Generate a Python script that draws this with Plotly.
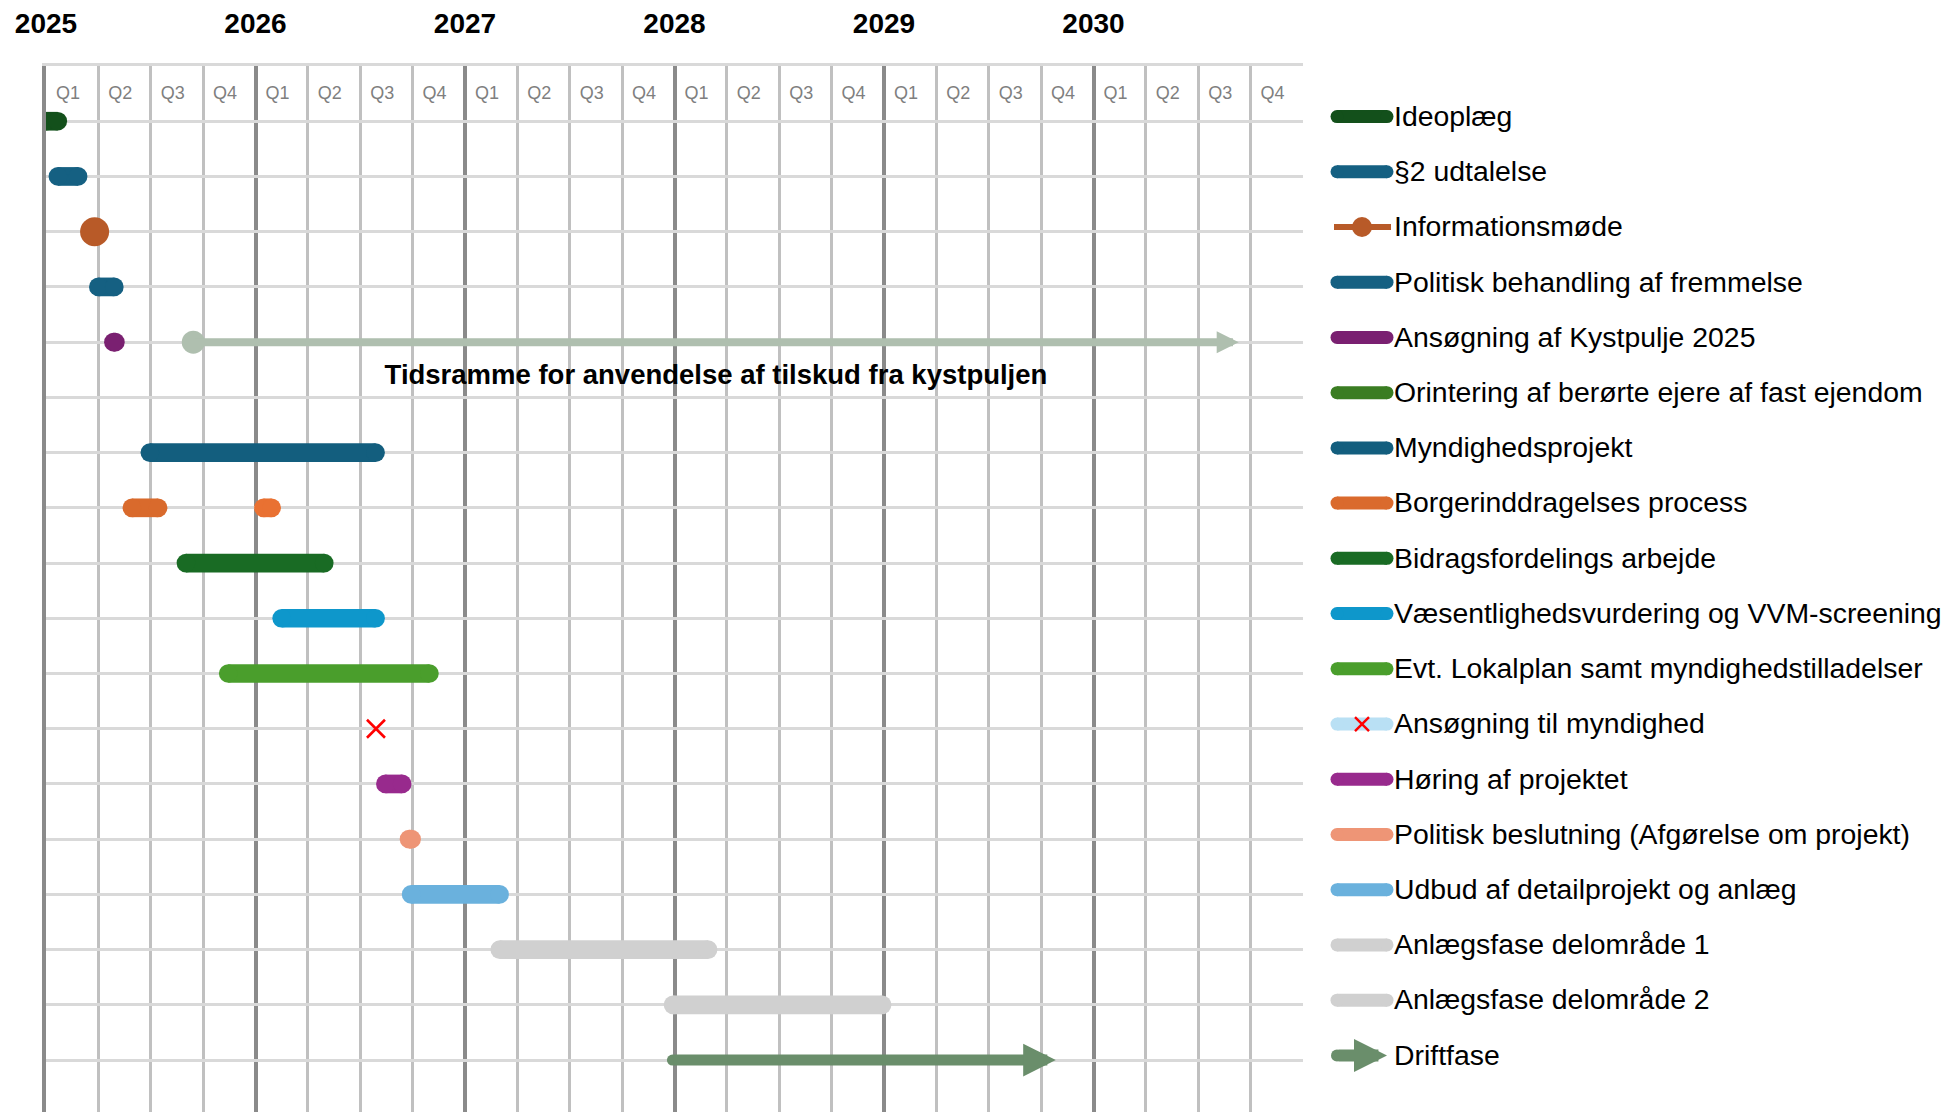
import plotly.graph_objects as go

# ---------------- data ----------------
years = [2025, 2026, 2027, 2028, 2029, 2030]
x_end = 2031
quarter_labels = ["Q1", "Q2", "Q3", "Q4"]

tasks = [
    "Ideoplæg",
    "§2 udtalelse",
    "Informationsmøde",
    "Politisk behandling af fremmelse",
    "Ansøgning af Kystpulje 2025",
    "Orintering af berørte ejere af fast ejendom",
    "Myndighedsprojekt",
    "Borgerinddragelses process",
    "Bidragsfordelings arbejde",
    "Væsentlighedsvurdering og VVM-screening",
    "Evt. Lokalplan samt myndighedstilladelser",
    "Ansøgning til myndighed",
    "Høring af projektet",
    "Politisk beslutning (Afgørelse om projekt)",
    "Udbud af detailprojekt og anlæg",
    "Anlægsfase delområde 1",
    "Anlægsfase delområde 2",
    "Driftfase",
]

# bar segments (row index into tasks, start, end in decimal years)
seg_row = [0, 1, 3, 4, 6, 7, 7, 8, 9, 10, 12, 13, 14, 15, 16]
seg_start = [2025.00, 2025.057, 2025.250, 2025.322, 2025.496, 2025.410, 2026.038,
             2025.668, 2026.125, 2025.870, 2026.620, 2026.733, 2026.743, 2027.166, 2027.993]
seg_end = [2025.056, 2025.153, 2025.326, 2025.331, 2026.573, 2025.535, 2026.077,
           2026.328, 2026.573, 2026.830, 2026.700, 2026.745, 2027.165, 2028.160, 2028.991]

# milestones
info_meeting_x = 2025.232          # Informationsmøde (row 2)
authority_app_x = 2026.575         # Ansøgning til myndighed (row 11)

# arrows
frame_row, frame_start, frame_end = 4, 2025.703, 2030.693
frame_text = "Tidsramme for anvendelse af tilskud fra kystpuljen"
drift_row, drift_start, drift_end = 17, 2027.990, 2029.820

# ---------------- styles ----------------
FONT = "Liberation Sans, Arial, sans-serif"
seg_colors = ["#13501B", "#156082", "#156082", "#7A2071", "#135E7E", "#D96A2C", "#E97132",
              "#196B24", "#0E97CB", "#4A9E2C", "#982A8D", "#EE9576", "#6AB1DD", "#D0D0D0", "#D0D0D0"]
legend_colors = {
    "Ideoplæg": "#13501B",
    "§2 udtalelse": "#156082",
    "Informationsmøde": "#B85A28",
    "Politisk behandling af fremmelse": "#156082",
    "Ansøgning af Kystpulje 2025": "#7A2071",
    "Orintering af berørte ejere af fast ejendom": "#3A7D22",
    "Myndighedsprojekt": "#135E7E",
    "Borgerinddragelses process": "#DA6A2D",
    "Bidragsfordelings arbejde": "#196B24",
    "Væsentlighedsvurdering og VVM-screening": "#0E97CB",
    "Evt. Lokalplan samt myndighedstilladelser": "#4A9E2C",
    "Ansøgning til myndighed": "#B9E0F4",
    "Høring af projektet": "#982A8D",
    "Politisk beslutning (Afgørelse om projekt)": "#EE9576",
    "Udbud af detailprojekt og anlæg": "#6AB1DD",
    "Anlægsfase delområde 1": "#D0D0D0",
    "Anlægsfase delområde 2": "#D0D0D0",
    "Driftfase": "#6A8E6B",
}
BAR_W = 18.7
frame_color = "#AFBFAF"
drift_color = "#6A8E6B"

W, H = 1942, 1112
ML, MT = 46, 66
plot_right = 1303
y_range = [17.94, -1]

fig = go.Figure()

# bars with rounded ends
for r, s, e, c in zip(seg_row, seg_start, seg_end, seg_colors):
    fig.add_trace(go.Scatter(
        x=[s, e], y=[r, r], mode="lines+markers",
        line=dict(color=c, width=BAR_W),
        marker=dict(color=c, size=BAR_W, line=dict(width=0)),
        showlegend=False, hoverinfo="skip"))

# Informationsmøde
fig.add_trace(go.Scatter(
    x=[info_meeting_x], y=[2], mode="markers",
    marker=dict(color="#B85A28", size=29, line=dict(width=0)),
    showlegend=False, hoverinfo="skip"))

# Ansøgning til myndighed
fig.add_trace(go.Scatter(
    x=[authority_app_x], y=[11], mode="markers",
    marker=dict(symbol="x-thin", size=18, line=dict(color="#FF0000", width=2.6)),
    showlegend=False, hoverinfo="skip"))

# arrow start markers
fig.add_trace(go.Scatter(
    x=[frame_start], y=[frame_row], mode="markers",
    marker=dict(color=frame_color, size=23, line=dict(width=0)),
    showlegend=False, hoverinfo="skip"))
fig.add_trace(go.Scatter(
    x=[drift_start], y=[drift_row], mode="markers",
    marker=dict(color=drift_color, size=11, line=dict(width=0)),
    showlegend=False, hoverinfo="skip"))

annotations = []
annotations.append(dict(
    x=frame_end, y=frame_row, ax=frame_start, ay=frame_row,
    xref="x", yref="y", axref="x", ayref="y", text="", showarrow=True,
    arrowhead=2, arrowwidth=8, arrowsize=0.55, arrowcolor=frame_color))
annotations.append(dict(
    x=drift_end, y=drift_row, ax=drift_start, ay=drift_row,
    xref="x", yref="y", axref="x", ayref="y", text="", showarrow=True,
    arrowhead=2, arrowwidth=11, arrowsize=0.593, arrowcolor=drift_color))

# frame text
fig.add_trace(go.Scatter(
    x=[(frame_start + frame_end) / 2], y=[frame_row + 0.63], mode="text",
    text=[f"<b>{frame_text}</b>"], textposition="middle center",
    textfont=dict(family=FONT, size=27.5, color="#000000"),
    showlegend=False, hoverinfo="skip"))

# quarter labels
q_x, q_t = [], []
for yr in years:
    for qi, ql in enumerate(quarter_labels):
        q_x.append(yr + qi * 0.25 + 0.105)
        q_t.append(ql)
fig.add_trace(go.Scatter(
    x=q_x, y=[-0.48] * len(q_x), mode="text", text=q_t,
    textposition="middle center",
    textfont=dict(family=FONT, size=18, color="#7F7F7F"),
    showlegend=False, hoverinfo="skip"))

# ---------------- custom legend (second subplot, pixel-like x units) ----------------
LEG_X0 = 1320
leg_dy = -0.085
for i, name in enumerate(tasks):
    c = legend_colors[name]
    yy = i + leg_dy
    if name == "Informationsmøde":
        fig.add_trace(go.Scatter(x=[14, 71], y=[yy, yy], mode="lines",
                                 line=dict(color=c, width=6),
                                 xaxis="x2", yaxis="y2", showlegend=False, hoverinfo="skip"))
        fig.add_trace(go.Scatter(x=[42], y=[yy], mode="markers",
                                 marker=dict(color=c, size=20, line=dict(width=0)),
                                 xaxis="x2", yaxis="y2", showlegend=False, hoverinfo="skip"))
    elif name == "Driftfase":
        fig.add_trace(go.Scatter(x=[17], y=[yy], mode="markers",
                                 marker=dict(color=c, size=12, line=dict(width=0)),
                                 xaxis="x2", yaxis="y2", showlegend=False, hoverinfo="skip"))
        annotations.append(dict(
            x=67, y=yy, ax=17, ay=yy, xref="x2", yref="y2", axref="x2", ayref="y2",
            text="", showarrow=True, arrowhead=2, arrowwidth=12, arrowsize=0.55,
            arrowcolor=c))
    else:
        fig.add_trace(go.Scatter(x=[17, 67], y=[yy, yy], mode="lines+markers",
                                 line=dict(color=c, width=13),
                                 marker=dict(color=c, size=13, line=dict(width=0)),
                                 xaxis="x2", yaxis="y2", showlegend=False, hoverinfo="skip"))
        if name == "Ansøgning til myndighed":
            fig.add_trace(go.Scatter(x=[42], y=[yy], mode="markers",
                                     marker=dict(symbol="x-thin", size=14,
                                                 line=dict(color="#FF0000", width=2.4)),
                                     xaxis="x2", yaxis="y2", showlegend=False, hoverinfo="skip"))
fig.add_trace(go.Scatter(
    x=[74] * len(tasks), y=[i + leg_dy + 0.04 for i in range(len(tasks))], mode="text",
    text=tasks, textposition="middle right",
    textfont=dict(family=FONT, size=28.4, color="#000000"),
    xaxis="x2", yaxis="y2", showlegend=False, hoverinfo="skip", cliponaxis=False))

quarter_vals = [yr + q * 0.25 for yr in years for q in range(1, 4)]

fig.update_layout(
    width=W, height=H, autosize=False,
    margin=dict(l=ML, r=0, t=MT, b=0, pad=0),
    paper_bgcolor="white", plot_bgcolor="white",
    showlegend=False,
    annotations=annotations,
    xaxis=dict(
        domain=[0, (plot_right - ML) / (W - ML)],
        range=[years[0], x_end], side="top", anchor="y",
        tickmode="array", tickvals=years, ticktext=[f"<b>{y}</b>" for y in years],
        tickfont=dict(family=FONT, size=28, color="#000000"),
        ticks="outside", ticklen=19, tickcolor="rgba(0,0,0,0)",
        showgrid=True, gridcolor="#8A8A8A", gridwidth=4.4,
        minor=dict(tickmode="array", tickvals=quarter_vals, showgrid=True,
                   gridcolor="#C0C0C0", gridwidth=2.6, ticks=""),
        showline=True, linecolor="#D9D9D9", linewidth=2.5,
        zeroline=False, fixedrange=True,
    ),
    yaxis=dict(
        domain=[0, 1], range=y_range, anchor="x",
        tickmode="array", tickvals=list(range(-1, 18)), showticklabels=False,
        showgrid=True, gridcolor="#D9D9D9", gridwidth=2.5,
        showline=True, linecolor="#8A8A8A", linewidth=4.4,
        zeroline=False, ticks="", fixedrange=True,
    ),
    xaxis2=dict(
        domain=[(LEG_X0 - ML) / (W - ML), 1], range=[0, W - LEG_X0], anchor="y2",
        visible=False, fixedrange=True,
    ),
    yaxis2=dict(
        domain=[0, 1], range=y_range, anchor="x2", visible=False, fixedrange=True,
    ),
)

fig.write_html("out.html", config={"displayModeBar": False},
               post_script="document.body.style.margin='0';document.body.style.overflow='hidden';")
